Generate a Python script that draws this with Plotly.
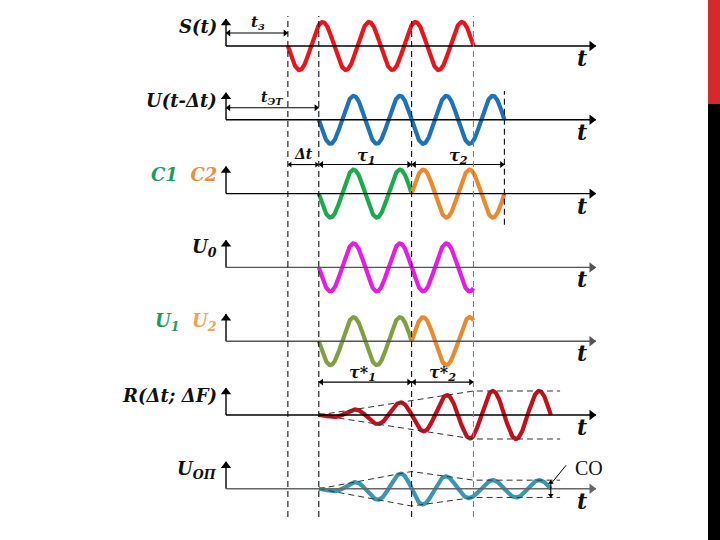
import numpy as np
import plotly.graph_objects as go

# ---------------- data (time in carrier periods, amplitude in carrier amplitudes) -------------
row_labels = [
    "S(t)",
    "U(t-Δt)",
    "<span style='color:#1f9a62'>C1</span>  <span style='color:#e8913a'>C2</span>",
    "U<sub>0</sub>",
    "<span style='color:#1f9a5a'>U<sub>1</sub></span>  <span style='color:#f0a24e'>U<sub>2</sub></span>",
    "R(Δt; ΔF)",
    "U<sub>ОП</sub>",
]
row_axis_colors = ["#000000", "#000000", "#000000", "#555555", "#555555", "#000000", "#666666"]

sig_names = ["S", "U", "C1", "C2", "U0", "U1", "U2", "R", "Uop"]
sig_rows = [0, 1, 2, 2, 3, 4, 4, 5, 6]
sig_start = [4 / 3, 2, 2, 4, 2, 2, 4, 2, 2]
sig_end = [16 / 3, 6, 4, 6, 16 / 3, 4, 16 / 3, 7, 7]
sig_sign = [-1, -1, -1, 1, -1, -1, 1, -1, -1]
sig_colors = ["#e8151d", "#1d72b8", "#1ea84f", "#ea8a30", "#e41ee0",
              "#80a043", "#ea8a30", "#c0121c", "#3a96b3"]

# amplitude envelopes
r_env_t = [2, 16 / 3, 7.2]
r_env_a = [0.0, 1.0, 1.0]
uop_env_t = [2, 4, 16 / 3, 7.2]
uop_env_a = [0.0, 0.72, 0.36, 0.36]

# time markers: t3 start, reference start, tau1/tau2 boundary, S end, U end
t_z = 4 / 3
t_et = 2
t_mid = 4
t_s_end = 16 / 3
t_u_end = 6
t_axis_end = 7.97

# ---------------- geometry helpers ----------------
PX_T = 46.4      # px per period
PX_A = 24.0      # px per amplitude unit
ROW_GAP = 3.075  # amplitude units between baselines
X0_PX, Y0_PX = 226, 46
WIDE = "DejaVu Serif, serif"
SERIF = "Liberation Serif, Times New Roman, serif"


def base(k):
    return -ROW_GAP * k


fig = go.Figure()

# waveforms
for name, r, s, e, sg, c in zip(sig_names, sig_rows, sig_start, sig_end, sig_sign, sig_colors):
    t = np.linspace(s, e, 500)
    if name == "R":
        env = np.interp(t, r_env_t, r_env_a)
    elif name == "Uop":
        env = np.interp(t, uop_env_t, uop_env_a)
    else:
        env = np.ones_like(t)
    y = base(r) + sg * env * np.sin(2 * np.pi * (t - s))
    fig.add_trace(go.Scatter(x=t, y=y, mode="lines", line=dict(color=c, width=4.2),
                             hoverinfo="skip", showlegend=False))

# envelope dashed guides
for k, et, ea in [(5, r_env_t, r_env_a), (6, uop_env_t, uop_env_a)]:
    for sgn in (1, -1):
        fig.add_trace(go.Scatter(x=et, y=[base(k) + sgn * a for a in ea], mode="lines",
                                 line=dict(color="#333333", width=1, dash="6px,4px"),
                                 hoverinfo="skip", showlegend=False))

shapes = []
# vertical dashed markers
top_y = (Y0_PX - 16) / PX_A
bot_y = -(517 - Y0_PX) / PX_A
for tm, y1, col in [(t_z, top_y, "#111111"), (t_et, top_y, "#111111"),
                    (t_mid, (Y0_PX - 20) / PX_A, "#111111"), (t_s_end, top_y, "#4a8fd0")]:
    shapes.append(dict(type="line", xref="x", yref="y", x0=tm, x1=tm, y0=bot_y, y1=y1,
                       line=dict(color=col, width=1.1, dash="6px,4px")))
shapes.append(dict(type="line", xref="x", yref="y", x0=t_u_end, x1=t_u_end,
                   y0=base(2) - 1.3, y1=base(1) + 1.2,
                   line=dict(color="#111111", width=1.1, dash="6px,4px")))
# right decorative bar
shapes.append(dict(type="rect", xref="paper", yref="paper", x0=708 / 720, x1=1,
                   y0=1 - 104 / 540, y1=1, fillcolor="#d42a2a", line=dict(width=0)))
shapes.append(dict(type="rect", xref="paper", yref="paper", x0=708 / 720, x1=1,
                   y0=0, y1=1 - 104 / 540, fillcolor="#000000", line=dict(width=0)))

# arrows: line segments + triangle heads (markers)
seg = {}     # (color, width) -> [xs, ys]
heads = {}   # (color, size) -> [xs, ys, symbols]
DIRS = {"right": (1, 0), "left": (-1, 0), "up": (0, 1), "down": (0, -1)}


def add_seg(x0, y0, x1, y1, color, width):
    xs, ys = seg.setdefault((color, width), ([], []))
    xs += [x0, x1, None]
    ys += [y0, y1, None]


def add_head(x, y, d, color, size):
    dx, dy = DIRS[d]
    cx = x - dx * (size * 0.45) / PX_T
    cy = y - dy * (size * 0.45) / PX_A
    xs, ys, sy = heads.setdefault((color, size), ([], [], []))
    xs.append(cx)
    ys.append(cy)
    sy.append("triangle-" + d)


def harrow(x0, x1, y, both=False, color="#000000", width=1.3, size=8):
    add_seg(x0, y, x1, y, color, width)
    add_head(x1, y, "right" if x1 > x0 else "left", color, size)
    if both:
        add_head(x0, y, "left" if x1 > x0 else "right", color, size)


def varrow(x, y0, y1, both=False, color="#000000", width=1.3, size=8):
    add_seg(x, y0, x, y1, color, width)
    add_head(x, y1, "up" if y1 > y0 else "down", color, size)
    if both:
        add_head(x, y0, "down" if y1 > y0 else "up", color, size)


ann = []


def text(x, y, s, size=18, xanchor="center", color="#111111", italic=True, bold=True, family=WIDE):
    st = s
    if italic:
        st = "<i>" + st + "</i>"
    if bold:
        st = "<b>" + st + "</b>"
    ann.append(dict(x=x, y=y, xref="x", yref="y", text=st, showarrow=False,
                    xanchor=xanchor, yanchor="middle",
                    font=dict(family=family, size=size, color=color)))


for k, (lbl, acol) in enumerate(zip(row_labels, row_axis_colors)):
    b = base(k)
    harrow(0, t_axis_end, b, color=acol, width=1.4, size=9)
    varrow(0, b, b + 1.13, color="#000000", width=1.4, size=9)
    text(-0.15, b + 0.8, lbl, size=18, xanchor="right")
    text(7.67, b - 0.5, "t", size=22)

# dimension arrows
harrow(0, t_z, base(0) + 0.54, both=True, width=1.1, size=6)
text(t_z / 2 + 0.03, base(0) + 0.98, "t<sub>з</sub>", size=15)
harrow(0, t_et, base(1) + 0.5, both=True, width=1.1, size=6)
text(1.0, base(1) + 0.92, "t<sub>ЭТ</sub>", size=14)

y_tau = base(2) + 1.21
harrow(t_z, t_et, y_tau, both=True, width=1.1, size=5)
text((t_z + t_et) / 2, y_tau + 0.42, "Δt", size=14)
harrow(t_et, t_mid, y_tau, both=True, width=1.1, size=6)
text(3.02, y_tau + 0.35, "τ<sub>1</sub>", size=16)
harrow(t_mid, t_u_end, y_tau, both=True, width=1.1, size=6)
text(5.0, y_tau + 0.35, "τ<sub>2</sub>", size=16)

y_taus = base(5) + 1.37
harrow(t_et, t_mid, y_taus, both=True, width=1.1, size=6)
text(2.95, y_taus + 0.38, "τ*<sub>1</sub>", size=16)
harrow(t_mid, t_s_end, y_taus, both=True, width=1.1, size=6)
text(4.67, y_taus + 0.35, "τ*<sub>2</sub>", size=16)

# CO residual marker
co_a = uop_env_a[-1]
varrow(7.0, base(6) - co_a, base(6) + co_a, both=True, width=1.1, size=5)
add_seg(7.0, base(6) + 0.2, 7.33, base(6) + 0.98, "#000000", 1.0)
text(7.83, base(6) + 0.87, "CO", size=20, italic=False, bold=False, family=SERIF)

for (c, w), (xs, ys) in seg.items():
    fig.add_trace(go.Scatter(x=xs, y=ys, mode="lines", line=dict(color=c, width=w),
                             hoverinfo="skip", showlegend=False))
for (c, s), (xs, ys, sy) in heads.items():
    fig.add_trace(go.Scatter(x=xs, y=ys, mode="markers",
                             marker=dict(color=c, size=s, symbol=sy, line=dict(width=0)),
                             hoverinfo="skip", showlegend=False))

fig.update_layout(
    width=720, height=540, autosize=False,
    margin=dict(l=0, r=0, t=0, b=0),
    paper_bgcolor="white", plot_bgcolor="white",
    xaxis=dict(range=[-X0_PX / PX_T, (720 - X0_PX) / PX_T], visible=False, fixedrange=True),
    yaxis=dict(range=[-(540 - Y0_PX) / PX_A, Y0_PX / PX_A], visible=False, fixedrange=True),
    shapes=shapes, annotations=ann, showlegend=False,
)

fig.write_html("out.html", config={"displayModeBar": False, "staticPlot": True},
               post_script="document.body.style.margin='0px';document.body.style.overflow='hidden';")
